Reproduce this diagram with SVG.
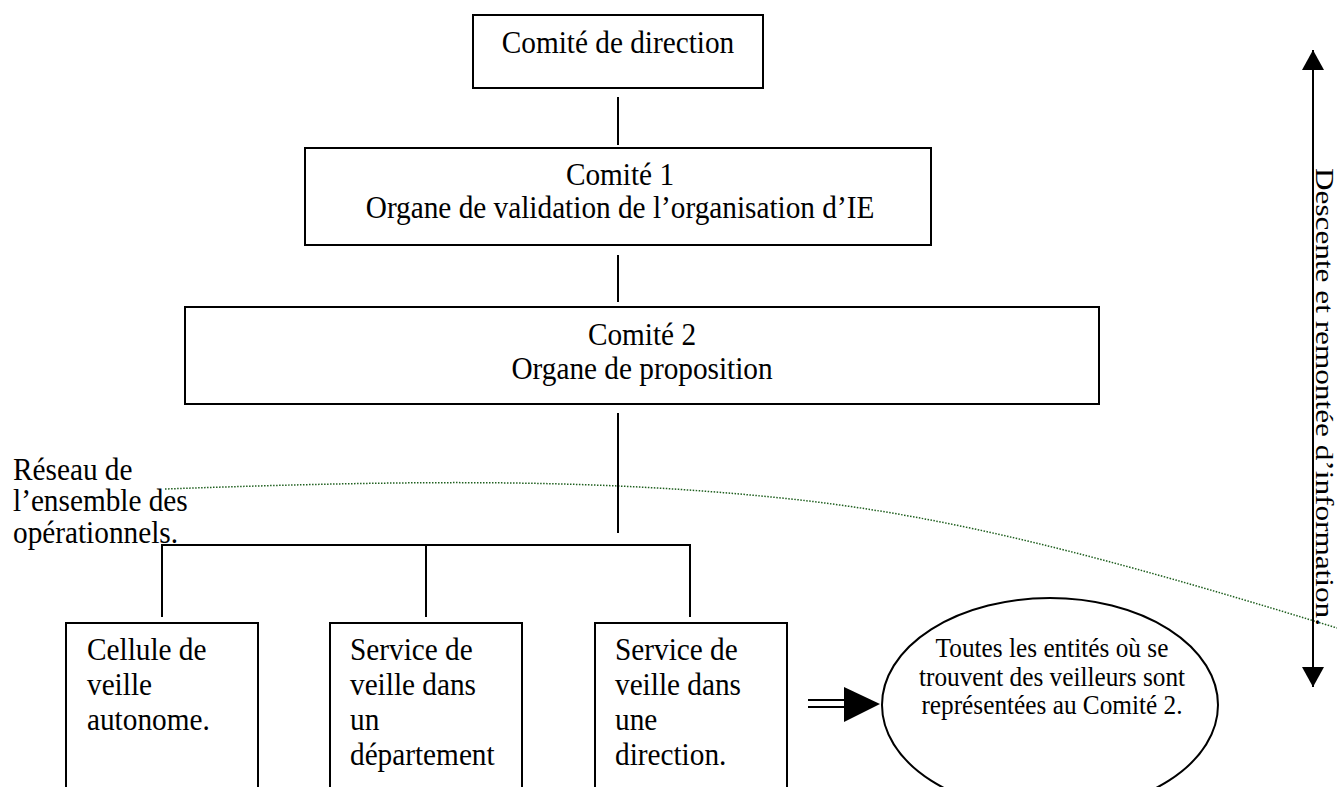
<svg xmlns="http://www.w3.org/2000/svg" width="1337" height="787" viewBox="0 0 1337 787">
  <style>
    .box { fill: #ffffff; stroke: #000000; stroke-width: 2; }
    .wire { fill: none; stroke: #000000; stroke-width: 2; }
    .t { font-family: "Liberation Serif", "Times New Roman", serif; font-size: 32px; fill: #000000; }
    .mid { text-anchor: middle; }
    .small { font-size: 27.5px; }
    .dots { fill: none; stroke: #1f5f1f; stroke-width: 1.5; stroke-dasharray: 1.5 1.5; }
  </style>
  <defs>
    <marker id="head" viewBox="0 0 20 22" refX="20" refY="11" markerWidth="20" markerHeight="22" markerUnits="userSpaceOnUse" orient="auto-start-reverse">
      <path d="M0,0 L20,11 L0,22 Z" fill="#000000"/>
    </marker>
  </defs>

  <rect width="1337" height="787" fill="#ffffff"/>

  <!-- network boundary (dotted curve) -->
  <path class="dots" d="M165,489 C420,480 600,478 800,500 C950,517 1100,555 1337,628"/>

  <!-- connectors -->
  <g id="connectors">
    <line class="wire" x1="618" y1="97" x2="618" y2="145"/>
    <line class="wire" x1="618" y1="255" x2="618" y2="302"/>
    <line class="wire" x1="618" y1="413" x2="618" y2="533"/>
    <polyline class="wire" points="162,617 162,545 690,545 690,617"/>
    <line class="wire" x1="426" y1="545" x2="426" y2="617"/>
    <!-- double-shaft arrow towards the ellipse -->
    <line class="wire" x1="808" y1="700" x2="846" y2="700"/>
    <line class="wire" x1="808" y1="707" x2="846" y2="707"/>
    <path d="M844,687 L880,704 L844,722 Z" fill="#000000"/>
    <!-- two-way vertical arrow -->
    <line class="wire" x1="1313" y1="50" x2="1313" y2="687" marker-start="url(#head)" marker-end="url(#head)"/>
  </g>

  <g id="comite-direction">
    <rect class="box" x="473" y="15" width="290" height="73"/>
    <text class="t mid" transform="matrix(0.915 0 0 1 618 53)">Comité de direction</text>
  </g>

  <g id="comite-1">
    <rect class="box" x="305" y="148" width="626" height="97"/>
    <text class="t mid" transform="matrix(0.915 0 0 1 620 185)">Comité 1</text>
    <text class="t mid" transform="matrix(0.915 0 0 1 620 218)">Organe de validation de l’organisation d’IE</text>
  </g>

  <g id="comite-2">
    <rect class="box" x="185" y="307" width="914" height="97"/>
    <text class="t mid" transform="matrix(0.915 0 0 1 642 345)">Comité 2</text>
    <text class="t mid" transform="matrix(0.915 0 0 1 642 379)">Organe de proposition</text>
  </g>

  <g id="reseau-label">
    <text class="t" transform="matrix(0.915 0 0 1 13 480)">Réseau de</text>
    <text class="t" transform="matrix(0.915 0 0 1 13 511)">l’ensemble des</text>
    <text class="t" transform="matrix(0.915 0 0 1 13 543)">opérationnels.</text>
  </g>

  <g id="cellule-veille">
    <rect class="box" x="66" y="623" width="192" height="190"/>
    <text class="t" transform="matrix(0.915 0 0 1 87 660)">Cellule de</text>
    <text class="t" transform="matrix(0.915 0 0 1 87 695)">veille</text>
    <text class="t" transform="matrix(0.915 0 0 1 87 730)">autonome.</text>
  </g>

  <g id="service-departement">
    <rect class="box" x="330" y="623" width="192" height="190"/>
    <text class="t" transform="matrix(0.915 0 0 1 350 660)">Service de</text>
    <text class="t" transform="matrix(0.915 0 0 1 350 695)">veille dans</text>
    <text class="t" transform="matrix(0.915 0 0 1 350 730)">un</text>
    <text class="t" transform="matrix(0.915 0 0 1 350 765)">département</text>
  </g>

  <g id="service-direction">
    <rect class="box" x="595" y="623" width="192" height="190"/>
    <text class="t" transform="matrix(0.915 0 0 1 615 660)">Service de</text>
    <text class="t" transform="matrix(0.915 0 0 1 615 695)">veille dans</text>
    <text class="t" transform="matrix(0.915 0 0 1 615 730)">une</text>
    <text class="t" transform="matrix(0.915 0 0 1 615 765)">direction.</text>
  </g>

  <g id="entites-veilleurs">
    <ellipse class="box" cx="1050" cy="705" rx="168" ry="107"/>
    <text class="t mid small" transform="matrix(0.92 0 0 1 1052 657)">Toutes les entités où se</text>
    <text class="t mid small" transform="matrix(0.92 0 0 1 1052 686)">trouvent des veilleurs sont</text>
    <text class="t mid small" transform="matrix(0.92 0 0 1 1052 714)">représentées au Comité 2.</text>
  </g>

  <g id="flux-information">
    <!-- reads top to bottom; glyph height narrowed to fit beside the arrow -->
    <text class="t" textLength="458" lengthAdjust="spacingAndGlyphs" transform="translate(1316,168) rotate(90) scale(1,0.78)">Descente et remontée d’information.</text>
  </g>
</svg>
